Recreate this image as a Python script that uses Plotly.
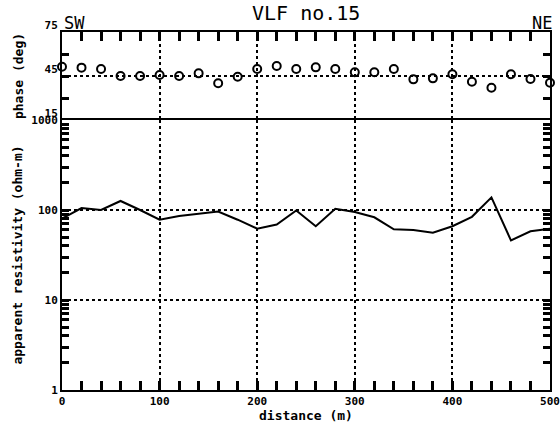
import plotly.graph_objects as go

distance = [0, 20, 40, 60, 80, 100, 120, 140, 160, 180, 200, 220, 240,
            260, 280, 300, 320, 340, 360, 380, 400, 420, 440, 460, 480, 500]
phase = [51.3, 50.7, 49.8, 45.0, 45.0, 45.7, 45.0, 46.8, 40.0, 44.5, 49.8, 51.8, 49.8,
         50.9, 49.8, 47.5, 47.5, 49.8, 42.7, 43.4, 46.2, 41.1, 37.0, 46.2, 43.0, 40.4]
resistivity = [80, 105, 100, 126, 100, 78, 86, 91, 96, 78, 62, 69, 99,
               66, 103, 95, 83, 61, 60, 56, 66, 84, 138, 46, 58, 62]

x_ticks = [0, 100, 200, 300, 400, 500]
phase_ticks = [15, 45, 75]
res_ticks = [1, 10, 100, 1000]
res_minor = [2, 3, 4, 5, 6, 7, 8, 9, 20, 30, 40, 50, 60, 70, 80, 90,
             200, 300, 400, 500, 600, 700, 800, 900]

title_text = "VLF no.15"
left_label = "SW"
right_label = "NE"

MONO = "DejaVu Sans Mono"
tickfont = dict(family=MONO, size=11, color="black", weight="bold")
titlefont = dict(family=MONO, size=13, color="black", weight="bold")

fig = go.Figure()
fig.add_trace(go.Scatter(x=distance, y=resistivity, mode="lines",
                         line=dict(color="black", width=2),
                         xaxis="x", yaxis="y", cliponaxis=False,
                         showlegend=False, hoverinfo="skip"))
fig.add_trace(go.Scatter(x=distance, y=phase, mode="markers",
                         marker=dict(symbol="circle-open", size=8, color="black",
                                     line=dict(width=2, color="black")),
                         xaxis="x2", yaxis="y2", cliponaxis=False,
                         showlegend=False, hoverinfo="skip"))

split = 270 / 358

common_line = dict(showline=True, linewidth=2, linecolor="black", zeroline=False,
                   automargin=False)
grid = dict(showgrid=True, gridcolor="black", gridwidth=1.5, griddash="dot")
XTL = 9
YTL = 7
TW = 2.5
TC = "#000000"

fig.update_layout(
    template="none",
    width=560, height=425,
    margin=dict(l=62, r=10, t=32, b=35),
    paper_bgcolor="white", plot_bgcolor="white",
    showlegend=False,
    xaxis=dict(domain=[0, 1], anchor="y", range=[0, 500], tickvals=x_ticks,
               ticks="inside", ticklen=XTL, tickwidth=TW, tickcolor=TC,
               minor=dict(dtick=20, tick0=0, ticks="inside", ticklen=XTL, tickwidth=TW,
                          tickcolor=TC, showgrid=False),
               mirror=True, tickfont=tickfont,
               title=dict(text="distance (m)", font=titlefont, standoff=2),
               **common_line, **grid),
    yaxis=dict(domain=[0, split], anchor="x", type="log", range=[0, 3],
               tickvals=res_ticks, ticktext=[str(v) for v in res_ticks],
               ticks="inside", ticklen=YTL, tickwidth=TW, tickcolor=TC,
               minor=dict(tickmode="array", tickvals=res_minor, ticks="inside",
                          ticklen=YTL, tickwidth=TW, tickcolor=TC, showgrid=False),
               mirror="ticks", tickfont=tickfont,
               title=dict(text="apparent resistivity (ohm-m)", font=titlefont, standoff=6),
               **common_line, **grid),
    xaxis2=dict(domain=[0, 1], anchor="y2", range=[0, 500], side="top",
                tickvals=x_ticks, showticklabels=False,
                ticks="inside", ticklen=XTL, tickwidth=TW, tickcolor=TC,
                minor=dict(dtick=20, tick0=0, ticks="inside", ticklen=XTL, tickwidth=TW,
                           tickcolor=TC, showgrid=False),
                mirror=False, **common_line, **grid),
    yaxis2=dict(domain=[split, 1], anchor="x2", range=[15, 75],
                tickvals=phase_ticks, ticktext=[str(v) for v in phase_ticks],
                ticks="inside", ticklen=YTL, tickwidth=TW, tickcolor=TC,
                minor=dict(dtick=15, tick0=15, ticks="inside", ticklen=YTL, tickwidth=TW,
                           tickcolor=TC, showgrid=False),
                mirror="ticks", tickfont=tickfont, ticklabelshift=-7,
                title=dict(text="phase (deg)", font=titlefont, standoff=18),
                **common_line, **grid),
    annotations=[
        dict(text=title_text, xref="paper", yref="paper", x=0.5, y=1, yshift=5,
             xanchor="center", yanchor="bottom", showarrow=False,
             font=dict(family=MONO, size=20, color="black")),
        dict(text=left_label, xref="paper", yref="paper", x=0, y=1, xshift=0, yshift=-3,
             xanchor="left", yanchor="bottom", showarrow=False,
             font=dict(family=MONO, size=17, color="black")),
        dict(text=right_label, xref="paper", yref="paper", x=1, y=1, xshift=-20, yshift=-3,
             xanchor="left", yanchor="bottom", showarrow=False,
             font=dict(family=MONO, size=17, color="black")),
    ],
)

fig.write_html("out.html")
